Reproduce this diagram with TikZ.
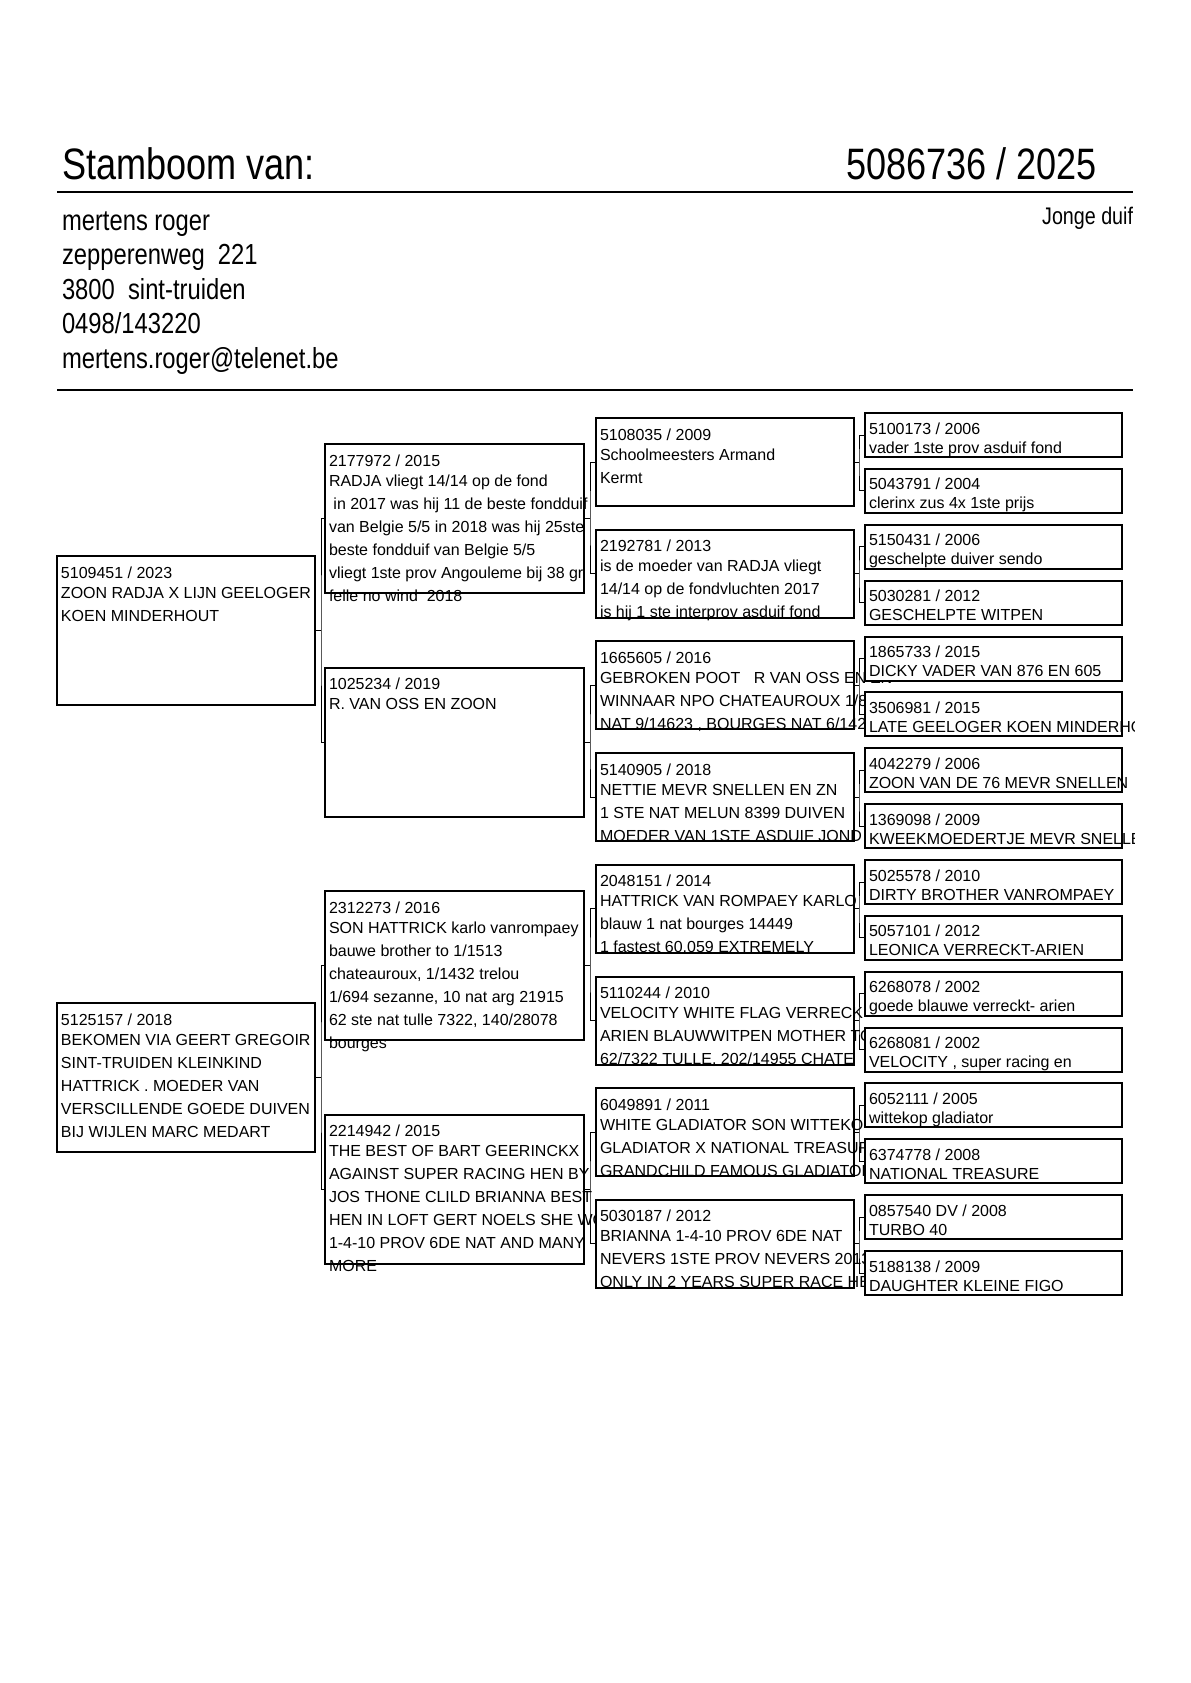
\documentclass[tikz,border=0pt]{standalone}
\usepackage{fontspec}
\setmainfont{Liberation Sans}
\newfontfamily\narrowfont[FakeStretch=0.82]{Liberation Sans}
\tikzset{
  pbox/.style={draw, line width=1pt, fill=white, rectangle, inner sep=0pt, outer sep=0pt, anchor=north west},
  gone/.style={pbox, minimum width=129pt, minimum height=74.5pt},
  gtwo/.style={pbox, minimum width=129.5pt, minimum height=74.5pt},
  gthree/.style={pbox, minimum width=129pt, minimum height=44pt},
  gfour/.style={pbox, minimum width=128.5pt, minimum height=22pt},
  ptext/.style={anchor=base west, inner sep=0pt, outer sep=0pt, font=\fontsize{8pt}{9pt}\selectfont},
  conn/.style={line width=0.5pt},
  rule/.style={line width=1pt},
  hdr/.style={anchor=base west, inner sep=0pt, outer sep=0pt, font=\narrowfont\fontsize{22pt}{24pt}\selectfont},
  info/.style={anchor=base west, inner sep=0pt, outer sep=0pt, font=\narrowfont\fontsize{14.5pt}{16pt}\selectfont},
  kind/.style={anchor=base east, inner sep=0pt, outer sep=0pt, font=\narrowfont\fontsize{12pt}{14pt}\selectfont}
}
% #1 node name, #2 box name, #3 offset (px, downwards), #4 text
\newcommand\pedl[4]{\node[ptext] (#1) at ([shift={(4,#3)}]#2.north west) {#4};}
\begin{document}
\begin{tikzpicture}[x=0.5pt,y=-0.5pt]
\fill[white] (0,0) rectangle (1190,1683);
\useasboundingbox (0,0) rectangle (1190,1683);

% ---------- header ----------
\node[hdr] (title) at (62,179) {Stamboom van:};
\node[hdr, anchor=base east] (ringno) at (1097,179) {5086736 / 2025};
\coordinate (r1a) at (57,192); \coordinate (r1b) at (1133,192);
\draw[rule] (r1a) -- (r1b);
\node[info] (own1) at (62,230) {mertens roger};
\node[info] (own2) at (62,264.6) {zepperenweg\ \ 221};
\node[info] (own3) at (62,299.2) {3800\ \ sint-truiden};
\node[info] (own4) at (62,333.8) {0498/143220};
\node[info] (own5) at (62,368.4) {mertens.roger@telenet.be};
\node[kind] (kind) at (1133,224) {Jonge duif};
\coordinate (r2a) at (57,390); \coordinate (r2b) at (1133,390);
\draw[rule] (r2a) -- (r2b);

% ---------- generation 1 ----------
\node[gone] (A) at (57,556) {};
\pedl{A1}{A}{22}{5109451 / 2023}
\pedl{A2}{A}{42}{ZOON RADJA X LIJN GEELOGER}
\pedl{A3}{A}{65}{KOEN MINDERHOUT}
\node[gone] (B) at (57,1003) {};
\pedl{B1}{B}{22}{5125157 / 2018}
\pedl{B2}{B}{42}{BEKOMEN VIA GEERT GREGOIR}
\pedl{B3}{B}{65}{SINT-TRUIDEN KLEINKIND}
\pedl{B4}{B}{88}{HATTRICK . MOEDER VAN}
\pedl{B5}{B}{111}{VERSCILLENDE GOEDE DUIVEN}
\pedl{B6}{B}{134}{BIJ WIJLEN MARC MEDART}

% ---------- generation 2 ----------
\node[gtwo] (C1) at (325,444) {};
\pedl{C1a}{C1}{22}{2177972 / 2015}
\pedl{C1b}{C1}{42}{RADJA vliegt 14/14 op de fond}
\pedl{C1c}{C1}{65}{\ in 2017 was hij 11 de beste fondduif}
\pedl{C1d}{C1}{88}{van Belgie 5/5 in 2018 was hij 25ste}
\pedl{C1e}{C1}{111}{beste fondduif van Belgie 5/5}
\pedl{C1f}{C1}{134}{vliegt 1ste prov Angouleme bij 38 gr}
\pedl{C1g}{C1}{157}{felle no wind\ \ 2018}
\node[gtwo] (C2) at (325,667.5) {};
\pedl{C2a}{C2}{22}{1025234 / 2019}
\pedl{C2b}{C2}{42}{R. VAN OSS EN ZOON}
\node[gtwo] (C3) at (325,891) {};
\pedl{C3a}{C3}{22}{2312273 / 2016}
\pedl{C3b}{C3}{42}{SON HATTRICK karlo vanrompaey}
\pedl{C3c}{C3}{65}{bauwe brother to 1/1513}
\pedl{C3d}{C3}{88}{chateauroux, 1/1432 trelou}
\pedl{C3e}{C3}{111}{1/694 sezanne, 10 nat arg 21915}
\pedl{C3f}{C3}{134}{62 ste nat tulle 7322, 140/28078}
\pedl{C3g}{C3}{157}{bourges}
\node[gtwo] (C4) at (325,1114.5) {};
\pedl{C4a}{C4}{22}{2214942 / 2015}
\pedl{C4b}{C4}{42}{THE BEST OF BART GEERINCKX}
\pedl{C4c}{C4}{65}{AGAINST SUPER RACING HEN BY}
\pedl{C4d}{C4}{88}{JOS THONE CLILD BRIANNA BEST}
\pedl{C4e}{C4}{111}{HEN IN LOFT GERT NOELS SHE WON}
\pedl{C4f}{C4}{134}{1-4-10 PROV 6DE NAT AND MANY}
\pedl{C4g}{C4}{157}{MORE}

% ---------- generation 3 ----------
\node[gthree] (D1) at (596,418) {};
\pedl{D1a}{D1}{22}{5108035 / 2009}
\pedl{D1b}{D1}{42}{Schoolmeesters Armand}
\pedl{D1c}{D1}{65}{Kermt}
\node[gthree] (D2) at (596,529.7) {};
\pedl{D2a}{D2}{22}{2192781 / 2013}
\pedl{D2b}{D2}{42}{is de moeder van RADJA vliegt}
\pedl{D2c}{D2}{65}{14/14 op de fondvluchten 2017}
\pedl{D2d}{D2}{88}{is hij 1 ste interprov asduif fond}
\node[gthree] (D3) at (596,641.4) {};
\pedl{D3a}{D3}{22}{1665605 / 2016}
\pedl{D3b}{D3}{42}{GEBROKEN POOT\ \ \ R VAN OSS EN ZN}
\pedl{D3c}{D3}{65}{WINNAAR NPO CHATEAUROUX 1/8}
\pedl{D3d}{D3}{88}{NAT 9/14623 , BOURGES NAT 6/142}
\node[gthree] (D4) at (596,753.1) {};
\pedl{D4a}{D4}{22}{5140905 / 2018}
\pedl{D4b}{D4}{42}{NETTIE MEVR SNELLEN EN ZN}
\pedl{D4c}{D4}{65}{1 STE NAT MELUN 8399 DUIVEN}
\pedl{D4d}{D4}{88}{MOEDER VAN 1STE ASDUIF JOND}
\node[gthree] (D5) at (596,864.8) {};
\pedl{D5a}{D5}{22}{2048151 / 2014}
\pedl{D5b}{D5}{42}{HATTRICK VAN ROMPAEY KARLO}
\pedl{D5c}{D5}{65}{blauw 1 nat bourges 14449}
\pedl{D5d}{D5}{88}{1 fastest 60.059 EXTREMELY}
\node[gthree] (D6) at (596,976.5) {};
\pedl{D6a}{D6}{22}{5110244 / 2010}
\pedl{D6b}{D6}{42}{VELOCITY WHITE FLAG VERRECK}
\pedl{D6c}{D6}{65}{ARIEN BLAUWWITPEN MOTHER TO}
\pedl{D6d}{D6}{88}{62/7322 TULLE, 202/14955 CHATE}
\node[gthree] (D7) at (596,1088.2) {};
\pedl{D7a}{D7}{22}{6049891 / 2011}
\pedl{D7b}{D7}{42}{WHITE GLADIATOR SON WITTEKO}
\pedl{D7c}{D7}{65}{GLADIATOR X NATIONAL TREASURE}
\pedl{D7d}{D7}{88}{GRANDCHILD FAMOUS GLADIATOR}
\node[gthree] (D8) at (596,1199.9) {};
\pedl{D8a}{D8}{22}{5030187 / 2012}
\pedl{D8b}{D8}{42}{BRIANNA 1-4-10 PROV 6DE NAT}
\pedl{D8c}{D8}{65}{NEVERS 1STE PROV NEVERS 2013}
\pedl{D8d}{D8}{88}{ONLY IN 2 YEARS SUPER RACE HEN}

% ---------- generation 4 ----------
\node[gfour] (E1) at (865,413) {};
\node[gfour] (E2) at (865,468.9) {};
\node[gfour] (E3) at (865,524.7) {};
\node[gfour] (E4) at (865,580.6) {};
\node[gfour] (E5) at (865,636.5) {};
\node[gfour] (E6) at (865,692.4) {};
\node[gfour] (E7) at (865,748.2) {};
\node[gfour] (E8) at (865,804.1) {};
\node[gfour] (E9) at (865,860) {};
\node[gfour] (E10) at (865,915.8) {};
\node[gfour] (E11) at (865,971.7) {};
\node[gfour] (E12) at (865,1027.6) {};
\node[gfour] (E13) at (865,1083.4) {};
\node[gfour] (E14) at (865,1139.3) {};
\node[gfour] (E15) at (865,1195.2) {};
\node[gfour] (E16) at (865,1251.1) {};
\begin{scope}
\clip (0,0) rectangle (1134,1683);
\pedl{E1a}{E1}{21}{5100173 / 2006}
\pedl{E1b}{E1}{40}{vader 1ste prov asduif fond}
\pedl{E2a}{E2}{21}{5043791 / 2004}
\pedl{E2b}{E2}{40}{clerinx zus 4x 1ste prijs}
\pedl{E3a}{E3}{21}{5150431 / 2006}
\pedl{E3b}{E3}{40}{geschelpte duiver sendo}
\pedl{E4a}{E4}{21}{5030281 / 2012}
\pedl{E4b}{E4}{40}{GESCHELPTE WITPEN}
\pedl{E5a}{E5}{21}{1865733 / 2015}
\pedl{E5b}{E5}{40}{DICKY VADER VAN 876 EN 605}
\pedl{E6a}{E6}{21}{3506981 / 2015}
\pedl{E6b}{E6}{40}{LATE GEELOGER KOEN MINDERHOUT}
\pedl{E7a}{E7}{21}{4042279 / 2006}
\pedl{E7b}{E7}{40}{ZOON VAN DE 76 MEVR SNELLEN}
\pedl{E8a}{E8}{21}{1369098 / 2009}
\pedl{E8b}{E8}{40}{KWEEKMOEDERTJE MEVR SNELLEN}
\pedl{E9a}{E9}{21}{5025578 / 2010}
\pedl{E9b}{E9}{40}{DIRTY BROTHER VANROMPAEY}
\pedl{E10a}{E10}{21}{5057101 / 2012}
\pedl{E10b}{E10}{40}{LEONICA VERRECKT-ARIEN}
\pedl{E11a}{E11}{21}{6268078 / 2002}
\pedl{E11b}{E11}{40}{goede blauwe verreckt- arien}
\pedl{E12a}{E12}{21}{6268081 / 2002}
\pedl{E12b}{E12}{40}{VELOCITY , super racing en}
\pedl{E13a}{E13}{21}{6052111 / 2005}
\pedl{E13b}{E13}{40}{wittekop gladiator}
\pedl{E14a}{E14}{21}{6374778 / 2008}
\pedl{E14b}{E14}{40}{NATIONAL TREASURE}
\pedl{E15a}{E15}{21}{0857540 DV / 2008}
\pedl{E15b}{E15}{40}{TURBO 40}
\pedl{E16a}{E16}{21}{5188138 / 2009}
\pedl{E16b}{E16}{40}{DAUGHTER KLEINE FIGO}
\end{scope}

% ---------- connectors ----------
% gen1 -> gen2
\draw[conn] (A.east) -- ++(6,0) coordinate (jA);
\draw[conn] (C1.west) -| (jA) |- (C2.west);
\draw[conn] (B.east) -- ++(6,0) coordinate (jB);
\draw[conn] (C3.west) -| (jB) |- (C4.west);
% gen2 -> gen3
\draw[conn] (C1.east) -- ++(6,0) coordinate (jC1);
\draw[conn] (D1.west) -| (jC1) |- (D2.west);
\draw[conn] (C2.east) -- ++(6,0) coordinate (jC2);
\draw[conn] (D3.west) -| (jC2) |- (D4.west);
\draw[conn] (C3.east) -- ++(6,0) coordinate (jC3);
\draw[conn] (D5.west) -| (jC3) |- (D6.west);
\draw[conn] (C4.east) -- ++(6,0) coordinate (jC4);
\draw[conn] (D7.west) -| (jC4) |- (D8.west);
% gen3 -> gen4
\draw[conn] (D1.east) -- ++(5,0) coordinate (jD1);
\draw[conn] (E1.west) -| (jD1) |- (E2.west);
\draw[conn] (D2.east) -- ++(5,0) coordinate (jD2);
\draw[conn] (E3.west) -| (jD2) |- (E4.west);
\draw[conn] (D3.east) -- ++(5,0) coordinate (jD3);
\draw[conn] (E5.west) -| (jD3) |- (E6.west);
\draw[conn] (D4.east) -- ++(5,0) coordinate (jD4);
\draw[conn] (E7.west) -| (jD4) |- (E8.west);
\draw[conn] (D5.east) -- ++(5,0) coordinate (jD5);
\draw[conn] (E9.west) -| (jD5) |- (E10.west);
\draw[conn] (D6.east) -- ++(5,0) coordinate (jD6);
\draw[conn] (E11.west) -| (jD6) |- (E12.west);
\draw[conn] (D7.east) -- ++(5,0) coordinate (jD7);
\draw[conn] (E13.west) -| (jD7) |- (E14.west);
\draw[conn] (D8.east) -- ++(5,0) coordinate (jD8);
\draw[conn] (E15.west) -| (jD8) |- (E16.west);
\end{tikzpicture}
\end{document}
